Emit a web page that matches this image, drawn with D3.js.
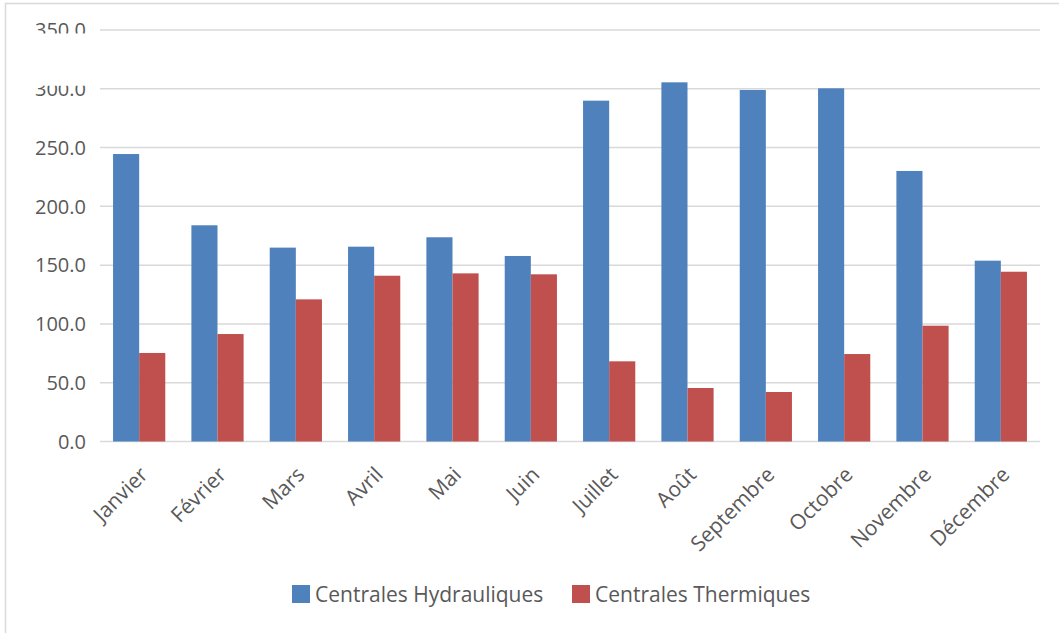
<!DOCTYPE html>
<html><head><meta charset="utf-8">
<script src="https://cdn.jsdelivr.net/npm/d3@7"></script>
<style>html,body{margin:0;padding:0;background:#fff;}svg{display:block;}</style>
</head><body>
<svg id="chart" width="1059" height="633"></svg>
<script>
const months = ["Janvier","Février","Mars","Avril","Mai","Juin","Juillet","Août","Septembre","Octobre","Novembre","Décembre"];
const hydro = [244.5, 183.9, 164.9, 165.7, 173.7, 157.8, 289.9, 305.5, 299.0, 300.4, 230.1, 153.8];
const thermo = [75.3, 91.4, 120.9, 141.0, 143.0, 142.2, 68.2, 45.5, 42.1, 74.4, 98.5, 144.4];
const seriesNames = ["Centrales Hydrauliques", "Centrales Thermiques"];
const yTicks = [0, 50, 100, 150, 200, 250, 300, 350];

const colors = ["#4f81bd", "#c0504d"];
const font = "'Open Sans', sans-serif";
const textColor = "#595959";

const svg = d3.select("#chart");
svg.append("rect").attr("width",1059).attr("height",633).attr("fill","#fff");
// outer border
svg.append("path").attr("d","M5.5,633 V3.5 H1059").attr("fill","none").attr("stroke","#d9d9d9").attr("stroke-width",1.5);

const plotLeft = 100, plotRight = 1040, plotTop = 30, plotBottom = 441.5;
const x = d3.scaleBand().domain(months).range([plotLeft, plotRight]).paddingInner(1/3).paddingOuter(1/6);
const xs = d3.scaleBand().domain([0,1]).range([0, x.bandwidth()]);
const y = d3.scaleLinear().domain([0, 350]).range([plotBottom, plotTop]);

// grid lines
svg.append("g").selectAll("line").data(yTicks).join("line")
  .attr("x1", plotLeft).attr("x2", plotRight)
  .attr("y1", d => y(d)).attr("y2", d => y(d))
  .attr("stroke", "#d9d9d9").attr("stroke-width", 1.5);

// clip paths emulating the partially hidden top labels
const defs = svg.append("defs");
defs.append("clipPath").attr("id","clip350").append("rect").attr("x",0).attr("y",0).attr("width",100).attr("height",y(350)+3.5);
defs.append("clipPath").attr("id","clip300").append("rect").attr("x",0).attr("y",y(300)-3).attr("width",100).attr("height",40);

// y tick labels
svg.append("g").selectAll("text").data(yTicks).join("text")
  .attr("x", 86).attr("y", d => y(d)).attr("dy","0.36em")
  .attr("text-anchor","end")
  .attr("font-family", font).attr("font-size", 20).attr("fill", textColor)
  .attr("clip-path", d => d === 350 ? "url(#clip350)" : d === 300 ? "url(#clip300)" : null)
  .text(d => d3.format(".1f")(d));

// bars
const data = months.map((m,i) => ({m, vals:[hydro[i], thermo[i]]}));
const groups = svg.append("g").selectAll("g").data(data).join("g")
  .attr("transform", d => `translate(${x(d.m)},0)`);
groups.selectAll("rect").data(d => d.vals.map((v,k) => ({v,k}))).join("rect")
  .attr("x", d => xs(d.k)).attr("width", xs.bandwidth())
  .attr("y", d => y(d.v)).attr("height", d => y(0) - y(d.v))
  .attr("fill", d => colors[d.k]);

// x labels
svg.append("g").selectAll("text").data(months).join("text")
  .attr("transform", d => `translate(${x(d) + x.bandwidth()/2 + 10},476) rotate(-45)`)
  .attr("text-anchor","end")
  .attr("font-family", font).attr("font-size", 21).attr("fill", textColor)
  .text(d => d);

// legend
const legendX = [292, 572];
const lg = svg.append("g").selectAll("g").data(seriesNames).join("g")
  .attr("transform", (d,i) => `translate(${legendX[i]},585)`);
lg.append("rect").attr("width",18).attr("height",18).attr("fill",(d,i)=>colors[i]);
lg.append("text").attr("x",23).attr("y",17)
  .attr("font-family", font).attr("font-size", 21).attr("fill", textColor)
  .text(d => d);
</script>
</body></html>
